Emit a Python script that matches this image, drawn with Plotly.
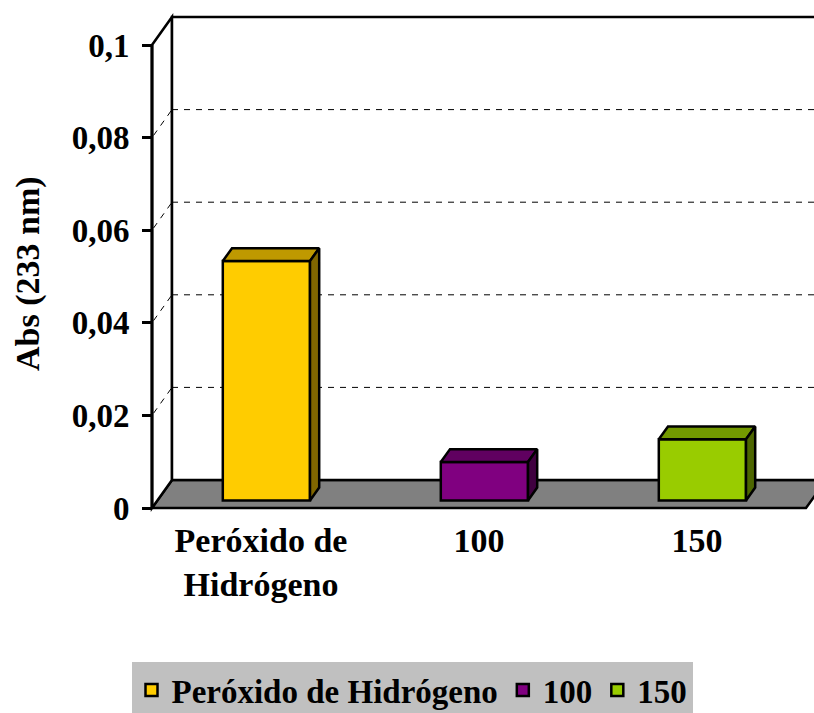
import plotly.graph_objects as go

# ---- data -------------------------------------------------------------
categories = ["Peróxido de Hidrógeno", "100", "150"]
category_ticks = ["Peróxido de<br>Hidrógeno", "100", "150"]
absorbance = [0.0517, 0.0083, 0.0132]
front_colors = ["#FFCC00", "#800080", "#99CC00"]
top_colors = ["#BF9900", "#600060", "#739900"]
side_colors = ["#806600", "#400040", "#4D6600"]
y_ticks = [0, 0.02, 0.04, 0.06, 0.08, 0.1]
y_tick_labels = ["0", "0,02", "0,04", "0,06", "0,08", "0,1"]
y_title = "Abs (233 nm)"

# ---- geometry of the oblique 3-D view ----------------------------------
W, H = 814, 713
X0_PX = 152          # front value axis (pixels from left)
Y0_PX = 508          # front category axis (pixels from top)
CAT_PX = 218         # pixels per category
VAL_PX = 4630        # pixels per absorbance unit
DEPTH_PX = (20, 28)  # shift from front plane to back wall
BAR_W = 0.40         # bar width in category units
BAR_D = (0.27, 0.73) # bar front / back depth fraction
Y_MAX = 0.1
FONT = "Liberation Serif"

x_lo = -0.5 - X0_PX / CAT_PX
x_hi = x_lo + W / CAT_PX
y_lo = -(H - Y0_PX) / VAL_PX
y_hi = y_lo + H / VAL_PX
DX = DEPTH_PX[0] / CAT_PX
DY = DEPTH_PX[1] / VAL_PX
n = len(categories)


def P(x, y, d):
    """Project a point (category x, value y, depth d) onto the page."""
    return x + d * DX, y + d * DY


def path(points):
    return "M " + " L ".join(f"{x},{y}" for x, y in points) + " Z"


def bold(size):
    return dict(family=FONT, size=size, color="black", weight="bold")


shapes = []
edge = dict(color="black", width=2.5)

# floor
shapes.append(dict(type="path", xref="x", yref="y", layer="below",
                   path=path([P(-0.5, 0, 0), P(n - 0.5, 0, 0),
                              P(n - 0.5, 0, 1), P(-0.5, 0, 1)]),
                   fillcolor="#808080", line=edge))
# side wall
shapes.append(dict(type="path", xref="x", yref="y", layer="below",
                   path=path([P(-0.5, 0, 0), P(-0.5, Y_MAX, 0),
                              P(-0.5, Y_MAX, 1), P(-0.5, 0, 1)]),
                   fillcolor="white", line=edge))
# back wall
shapes.append(dict(type="path", xref="x", yref="y", layer="below",
                   path=path([P(-0.5, 0, 1), P(-0.5, Y_MAX, 1),
                              P(n - 0.5, Y_MAX, 1), P(n - 0.5, 0, 1)]),
                   fillcolor="white", line=edge))
# dashed gridlines on side and back walls
for v in y_ticks[1:-1]:
    for a, b in [(P(-0.5, v, 0.08), P(-0.5, v, 1)),
                 (P(-0.5, v, 1), P(n - 0.5, v, 1))]:
        shapes.append(dict(type="line", xref="x", yref="y", layer="below",
                           x0=a[0], y0=a[1], x1=b[0], y1=b[1],
                           line=dict(color="black", width=1, dash="6px,6px")))

fig = go.Figure()

d1, d2 = BAR_D
for i, (name, val) in enumerate(zip(categories, absorbance)):
    # front face
    fig.add_trace(go.Bar(
        x=[i + d1 * DX], y=[val], base=[d1 * DY], width=BAR_W,
        name=name, marker=dict(color=front_colors[i],
                               line=dict(color="black", width=2.5)),
        showlegend=True, hoverinfo="skip"))
    xa, xb = i - BAR_W / 2, i + BAR_W / 2
    top = [P(xa, val, d1), P(xb, val, d1), P(xb, val, d2), P(xa, val, d2),
           P(xa, val, d1)]
    side = [P(xb, 0, d1), P(xb, val, d1), P(xb, val, d2), P(xb, 0, d2),
            P(xb, 0, d1)]
    for poly, col in [(top, top_colors[i]), (side, side_colors[i])]:
        fig.add_trace(go.Scatter(
            x=[p[0] for p in poly], y=[p[1] for p in poly],
            mode="lines", fill="toself", fillcolor=col,
            line=dict(color="black", width=2.5),
            showlegend=False, hoverinfo="skip"))

# front value-axis line
shapes.append(dict(type="line", xref="x", yref="y", layer="above",
                   x0=-0.5, y0=0, x1=-0.5, y1=Y_MAX,
                   line=dict(color="black", width=3)))

fig.update_layout(
    width=W, height=H,
    margin=dict(l=0, r=0, t=0, b=0, autoexpand=False),
    paper_bgcolor="white", plot_bgcolor="white",
    barmode="overlay",
    shapes=shapes,
    font=dict(family=FONT, color="black"),
    xaxis=dict(range=[x_lo, x_hi], anchor="free",
               position=(H - Y0_PX) / H,
               tickvals=list(range(n)), ticktext=category_ticks,
               tickfont=bold(34), ticks="", showgrid=False,
               zeroline=False, showline=False, ticklabelstandoff=9,
               fixedrange=True),
    yaxis=dict(range=[y_lo, y_hi], anchor="free",
               position=X0_PX / W,
               tickvals=y_ticks, ticktext=y_tick_labels,
               tickfont=bold(33), ticks="outside", ticklen=10,
               tickwidth=2.5, tickcolor="black", showgrid=False,
               zeroline=False, showline=False, ticklabelstandoff=6,
               fixedrange=True),
    annotations=[dict(text=y_title, xref="paper", yref="paper",
                      x=28 / W, y=(H - 274) / H, xanchor="center",
                      yanchor="middle", textangle=-90, showarrow=False,
                      font=bold(34))],
    legend=dict(orientation="h", x=412 / W, xanchor="center",
                y=(H - 662) / H, yanchor="top",
                bgcolor="#C0C0C0", borderwidth=0,
                font=bold(33),
                itemclick=False, itemdoubleclick=False),
)

fig.write_html("out.html")
